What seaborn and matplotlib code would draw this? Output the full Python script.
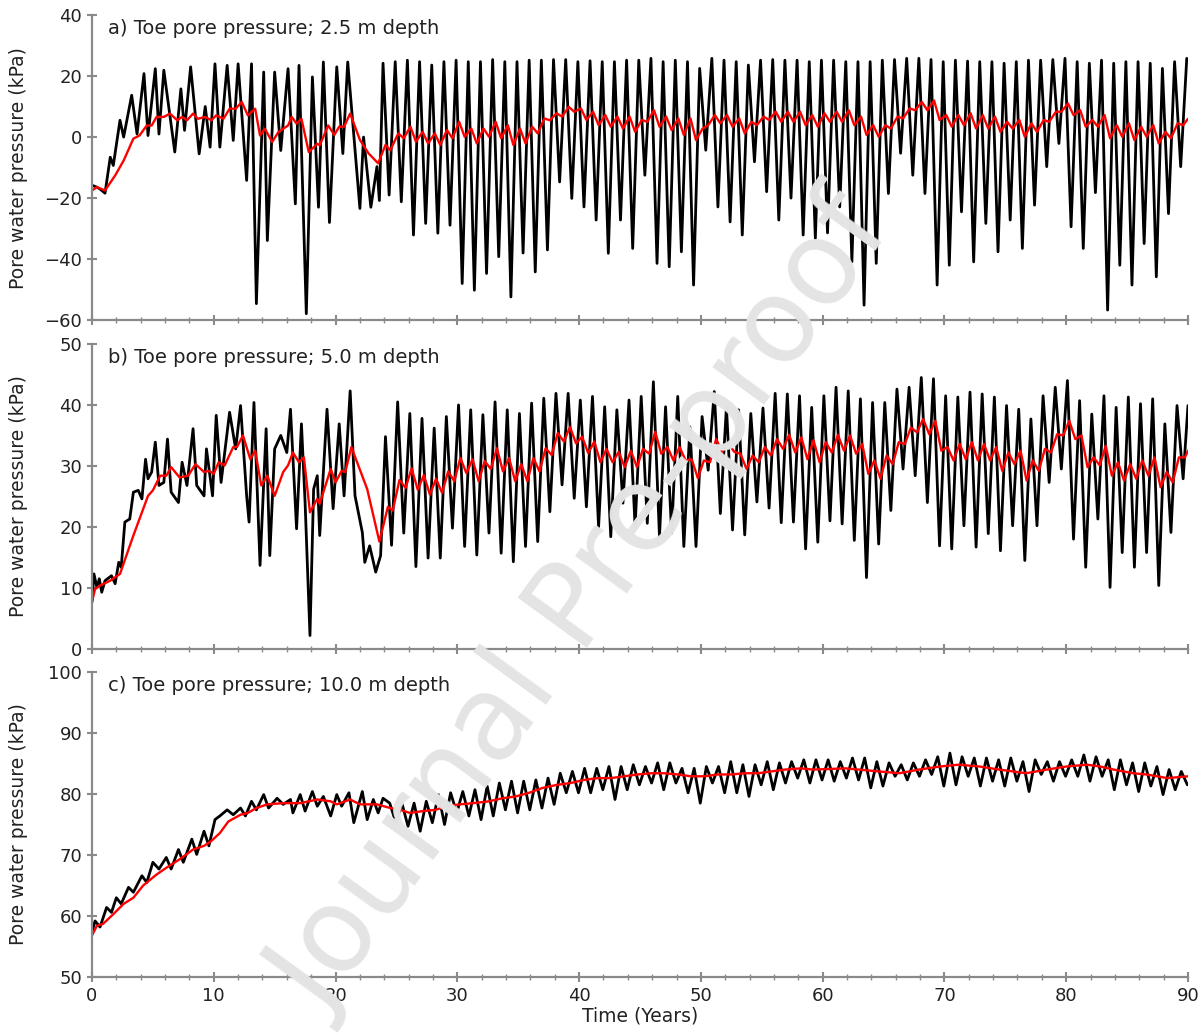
import numpy as np
import pandas as pd
import seaborn as sns
import matplotlib.pyplot as plt
from matplotlib.ticker import MultipleLocator

# ---- panel a: 2.5 m depth ----
# irregular first years (time, value)
a_early_t = [0, 0.4, 0.65, 1.07, 1.5, 1.75, 2.3, 2.6, 3.26, 3.7, 4.27, 4.6, 5.2, 5.5, 5.9, 6.8, 7.3, 7.6, 8.1, 8.8,
             9.3, 9.7, 10.1, 10.5, 11.1, 11.6, 12.0, 12.7, 13.1, 13.5, 14.1, 14.4, 15.0, 15.5, 16.1, 16.7, 17.0, 17.6, 18.1, 18.6,
             19.0, 19.5, 20.1, 20.6, 21.0, 22.0, 22.3, 22.9, 23.4, 23.6]
a_early_v = [-15.8, -16.4, -17, -18.4, -6.6, -9.3, 5.5, 0, 13.7, 1, 20.8, 0.5, 22.4, 1, 21.9, -4.9, 15.8, 2.2, 23, -5.5,
             10, -3.3, 24, -3.3, 23.5, -1.1, 24, -14.2, 24, -54.6, 21.3, -33.9, 21.3, -4.4, 22.4, -21.9, 23.5, -57.9, 19.7, -23,
             24.6, -28, 23, -5.4, 24.6, -23.4, 0, -23, -9.7, -20.8]
# yearly peaks (years 23..89) and troughs (years 24..89)
a_peaks = [24.2, 24.7, 25.2, 24.7, 23.6, 24.7, 25.2, 24.7, 24.7, 25.4, 24.7, 24.7, 25.2, 25.2, 25.4, 25.4, 24.7,
           25.0, 24.7, 24.7, 25.2, 25.2, 25.8, 24.7, 25.2, 24.7, 22.5, 25.8, 25.2, 24.7, 23.6, 25.2, 25.4,
           25.2, 25.2, 24.7, 25.2, 25.2, 24.7, 24.7, 24.7, 25.2, 25.4, 25.8, 25.8, 25.4, 24.7, 25.2, 24.9, 24.7,
           24.7, 24.2, 24.7, 25.2, 25.2, 25.4, 25.8, 24.7, 24.2, 25.2, 24.2, 24.7, 24.7, 24.2, 22.5, 24.7, 25.8]
a_troughs = [-19, -21.2, -32.1, -28.3, -31.5, -28.9, -48, -50.2, -44.7, -39.2, -52.4, -38, -44.2, -37, -14.7, -20.1,
             -22.9, -27.2, -38.1, -27.2, -36.5, -12.5, -41.4, -42.5, -37.6, -48.5, -4.3, -22.9, -27.8, -32.1, -8.1,
             -17.9, -27.2,
             -20, -32.1, -33.2, -31.4, -22.9, -40.9, -55.1, -41.4, -18.5, -5.3, -12.5, -18.5, -48.5, -42, -24.5,
             -40.9, -28.3, -37.6, -27.2, -36.5, -22.3, -9.7, -2.1, -29.4, -36.5, -18.2, -56.7, -42, -48.5, -34.9,
             -45.8, -25.1, -9.7]
a_red_early_t = [0, 0.4, 1.07, 1.9, 2.6, 3.4, 3.9, 4.5, 4.9, 5.3, 5.9, 6.4, 7.0, 7.4, 7.8, 8.3, 8.7, 9.3, 9.8, 10.2,
                 10.8, 11.3, 11.8, 12.3, 12.8, 13.4, 13.8, 14.2, 14.8, 15.3, 16.1, 16.4, 16.8, 17.2, 17.8, 18.5, 18.7,
                 19.4, 19.9, 20.3, 20.7, 21.2, 22.0, 22.7, 23.5, 24.1, 24.5]
a_red_early_v = [-17.5, -16.4, -17.5, -12.6, -7.7, -0.5, 0.5, 3.8, 3.8, 6.6, 6.6, 7.7, 5.5, 6.6, 5.5, 7.7, 6, 6.6, 5.5,
                 7.1, 6, 9.3, 9.3, 11.5, 7.1, 9.3, 0.5, 2.7, -1.6, 1.6, 3.8, 6.6, 4.4, 6, -4.9, -2.2, -2.7, 3.8, 0.7,
                 3.4, 3.4, 7.7, -0.9, -5.3, -8.6, -2.6, -4.3]
# running mean wiggle, years 25..89
a_red_hi = [1.2, 3.4, 1.7, 1.2, 2.3, 5, 2.8, 2.8, 5, 3.9, 2.8, 3.4, 6.1, 7.8, 9.9, 9.4, 8.3, 7.2, 6.7, 6.7,
            5.6, 8.8, 6.7, 6.1, 6.1, 2.8, 7.2, 7.2, 6.1, 5, 6.7, 8.3, 8.3, 8.3, 7.2, 7.8, 8.3, 8.8, 6.7, 3.9,
            3.9, 6.7, 9.4, 11.5, 12, 7.2, 7.2, 7.8, 7.2, 6.7, 5, 5.6, 4.5, 5.6, 8.3, 11, 8.8, 5.6, 7.2, 3.9,
            4.5, 3.4, 3.9, 1.7, 4.5]
a_red_lo = [-0.4, -1.5, -2.1, -2.6, -0.4, 0.1, -2.1, 0.1, -0.4, -2.6, -2.1, 1.2, 5.5, 6.7, 8.3, 5.6, 3.9, 3.4, 2.8, 1.7,
            5, 3.4, 2.3, 0.7, -1, 3.9, 4.5, 3.4, 1.2, 3.9, 5.6, 5, 5, 3.9, 3.4, 5, 5, 3.9, 0.7, 0.1,
            2.8, 6.1, 8.8, 8.8, 5.6, 3.4, 3.9, 2.8, 2.8, 1.7, 2.8, 0.1, 1.7, 5, 8.3, 7.2, 3.4, 3.4, -0.4, 0.1,
            -1, 0.1, -2.1, -0.4, 3.9]

# ---- panel b: 5.0 m depth ----
b_early_t = [0, 0.16, 0.4, 0.6, 0.8, 1.07, 1.6, 1.9, 2.2, 2.4, 2.7, 3.1, 3.4, 3.8, 4.1, 4.4, 4.6, 4.9, 5.2, 5.5,
             5.9, 6.2, 6.5, 7.1, 7.4, 7.8, 8.3, 8.6, 9.2, 9.4, 9.9, 10.2, 10.6, 11.3, 11.8, 12.2, 12.7, 12.9, 13.3, 13.8,
             14.3, 14.6, 15.0, 15.5, 16.0, 16.3, 16.8, 17.2, 17.5, 17.9, 18.2, 18.5, 18.7, 19.3, 19.8, 20.3, 20.7, 21.2,
             21.6, 22.2, 22.4, 22.8, 23.3, 23.7, 24.1]
b_early_v = [7.7, 12.3, 10.1, 11.5, 9.3, 11.2, 12, 10.7, 14.2, 13.4, 20.8, 21.3, 25.7, 26, 24.6, 31.1, 27.9, 29, 33.9, 26.8,
             27.3, 34.4, 25.7, 24, 30.6, 26.8, 36.1, 26.8, 25.1, 32.8, 25.1, 38.3, 27.3, 38.8, 32.8, 39.9, 25.1, 20.8, 40.4, 13.7,
             36.1, 15.3, 32.8, 35, 32.2, 39.3, 19.7, 36.9, 24, 2.2, 26.2, 28.4, 18.6, 39.3, 23, 36.9, 25.1, 42.3,
             25.1, 19.1, 14.2, 16.9, 12.6, 15.3, 34.8]
# peaks years 25..89, troughs years 24..89
b_peaks = [40.5, 38.6, 37.8, 36.2, 38.1, 40, 39.2, 38.4, 40.5, 39.2, 38.6, 40.3, 41.1, 41.9, 41.9, 40.8,
           41.4, 39.7, 39.2, 40.8, 41.4, 43.8, 39.7, 41.4, 36.4, 38.1, 42.2, 39.7, 39.2, 38.6, 39.5, 41.9,
           41.8, 41.5, 39.6, 41.5, 42.9, 42.3, 41.0, 40.4, 40.4, 42.6, 42.9, 44.5, 44.3, 41.5, 41.3, 42.1, 41.8,
           41.3, 39.9, 39.3, 37.7, 41.5, 42.9, 44.0, 40.7, 38.5, 41.5, 39.6, 41.3, 40.2, 41.0, 36.9, 39.9]
b_troughs = [17.0, 19.0, 13.5, 14.9, 14.9, 19.8, 16.8, 15.4, 19.0, 15.7, 14.3, 16.8, 17.6, 22.5, 26.9, 24.7, 23.3,
             20.0, 18.4, 23.9, 20.0, 20.6, 18.4, 19.0, 16.8, 16.8, 29.3, 22.2, 19.5, 18.7, 24.1, 23.1, 20.7,
             20.8, 16.4, 17.5, 21.0, 20.5, 17.8, 11.7, 17.2, 22.7, 29.5, 28.4, 24.0, 16.9, 16.4, 20.2, 16.7, 18.9,
             16.1, 20.2, 14.5, 20.2, 27.3, 29.5, 18.0, 13.4, 21.3, 10.1, 15.8, 13.4, 15.8, 10.4, 19.1, 27.9]
b_red_early_t = [0, 0.25, 0.66, 1.5, 2.3, 3.4, 4.6, 5.0, 5.6, 6.1, 6.5, 7.2, 7.9, 8.5, 9.2, 9.6, 10.0, 10.4, 10.9, 11.6,
                 11.9, 12.4, 13.0, 13.4, 13.9, 14.4, 15.0, 15.7, 16.1, 16.5, 17.0, 17.4, 17.9, 18.5, 18.7, 19.6, 20.0,
                 20.5, 20.8, 21.3, 22.6, 23.6, 24.3, 24.7]
b_red_early_v = [7.7, 9.8, 10.4, 11.2, 12.3, 18.6, 25.1, 26, 28.4, 28.4, 29.8, 28.1, 28.4, 30.3, 29, 29.2, 28.7, 30.6,
                 30.1, 33.1, 33.1, 35, 31.1, 32.5, 26.8, 28.4, 25.1, 29, 30.1, 32.2, 30.6, 31.4, 22.4, 24.6, 23.8, 29.5,
                 27.3, 29.2, 29, 33.1, 26.2, 17.6, 23.3, 22.7]
b_red_hi = [27.7, 29.6, 28.5, 27.9, 29.1, 31.3, 31.1, 30.8, 32.9, 31.3, 30.3, 31.3, 32.9, 35.4, 36.4, 34.8, 34.0, 32.8,
            32.3, 32.5, 32.8, 35.6, 33.1, 33.1, 31.1, 30.9, 34.4, 33.7, 32.0, 31.7, 33.1, 34.4, 35.1, 34.7, 34.2, 33.9,
            35.1, 35.0, 33.6, 30.9, 31.7, 33.9, 36.3, 37.7, 37.4, 33.1, 33.6, 33.9, 33.6, 33.1, 32.2, 32.5, 30.9, 32.8,
            35.2, 37.4, 35.0, 31.4, 33.3, 30.6, 30.3, 30.9, 31.4, 29.0, 31.4]
b_red_lo = [26.4, 26.1, 25.3, 25.6, 27.5, 28.8, 27.5, 29.5, 29.1, 27.5, 27.5, 29.1, 31.8, 34.0, 33.7, 32.1, 30.6, 30.6,
            29.8, 29.8, 32.0, 32.0, 30.9, 30.9, 28.0, 30.6, 32.3, 32.3, 29.5, 30.6, 31.7, 32.8, 32.2, 31.1, 30.6, 32.2,
            32.5, 32.0, 28.7, 27.9, 30.3, 33.6, 35.5, 35.2, 32.5, 30.9, 31.1, 30.9, 30.9, 29.2, 30.3, 27.6, 29.2, 32.2,
            35.0, 34.4, 29.8, 30.1, 28.4, 27.6, 27.9, 28.4, 26.5, 27.3, 31.4]

# ---- panel c: 10.0 m depth ----
c_early_t = [0, 0.25, 0.66, 1.2, 1.6, 2.0, 2.4, 3.0, 3.4, 4.1, 4.5, 5.0, 5.5, 6.1, 6.5, 7.1, 7.5, 8.2, 8.6, 9.2,
             9.6, 10.1, 10.5, 11.1, 11.6, 12.2, 12.6, 13.1, 13.5, 14.1, 14.5, 15.2, 15.7, 16.3, 16.5, 17.1, 17.5, 18.1,
             18.5, 19.0, 19.6, 20.1, 20.5, 21.1, 21.5, 22.2, 22.6, 23.1, 23.5, 23.9]
c_early_v = [57.3, 59.2, 58.2, 61.4, 60.6, 63.0, 62.0, 64.7, 63.9, 66.6, 65.5, 68.8, 67.7, 69.6, 67.7, 70.9, 68.8, 72.6,
             70.1, 73.9, 71.5, 75.8, 76.4, 77.4, 76.6, 77.7, 76.4, 78.8, 77.4, 79.9, 77.7, 79.3, 78.3, 79.1, 76.9, 79.9,
             77.2, 80.4, 78.0, 79.6, 76.4, 79.9, 78.0, 80.2, 75.3, 80.4, 75.8, 79.1, 76.9, 79.3]
# peaks and troughs years 24..89
c_peaks = [78.5, 78.5, 78.5, 78.8, 79.9, 80.2, 80.4, 80.7, 81.3, 81.8, 82.1, 82.1, 82.3, 82.6, 83.4, 83.7, 84.2, 84.2,
           84.5, 84.5, 84.8, 84.5, 85.1, 85.1, 84.2, 84.2, 84.5, 84.5, 85.3, 84.8, 84.8, 85.3, 85.1,
           85.3, 85.6, 85.6, 85.6, 85.3, 85.9, 85.9, 85.3, 85.1, 84.8, 85.1, 85.6, 86.1, 86.7, 86.1, 85.9, 85.9,
           85.6, 85.9, 85.3, 85.6, 85.3, 85.3, 85.6, 86.4, 86.1, 85.6, 85.6, 85.1, 85.1, 84.5, 84.0, 83.7]
c_troughs = [75.3, 74.7, 73.9, 75.3, 75.0, 76.9, 76.4, 75.8, 76.4, 77.4, 76.9, 77.4, 77.7, 78.3, 80.2, 80.2, 80.2,
             80.7, 79.1, 80.7, 81.5, 81.8, 80.7, 81.8, 80.2, 78.5, 81.8, 80.2, 80.2, 79.6, 81.5, 80.7, 81.8,
             82.6, 81.8, 82.3, 82.1, 82.6, 82.3, 81.0, 81.3, 82.9, 82.3, 82.9, 83.2, 81.3, 81.5, 82.9, 81.3, 82.1,
             81.3, 82.1, 80.4, 83.2, 82.1, 82.9, 82.9, 82.1, 82.9, 80.7, 81.5, 80.4, 81.3, 79.9, 80.7, 81.5]
c_red_t = [0, 0.4, 0.9, 1.75, 2.6, 3.4, 4.2, 5.3, 6.1, 7.2, 8.3, 9.2, 9.8, 10.5, 11.2, 12.2, 12.8, 13.5, 14.4, 15.7,
           17.1, 18.5, 19.6, 20.1, 21.2, 22.0, 23.4, 24.5, 25.3, 26.1, 27.2, 28.2, 29.1, 30.2, 31.3, 32.6, 33.7, 34.8,
           35.9, 37.0, 38.2, 39.3, 40.4, 41.5, 42.6, 43.7, 44.8, 45.9, 47.0, 48.1, 49.2, 50.3, 51.4, 52.5, 53.6, 54.7,
           55.8, 56.9, 58.2, 59.2, 61.9, 64.6, 66.3, 67.9, 69.6, 71.2, 72.9, 74.5, 76.7, 78.4, 80.0, 81.7, 82.8, 83.9,
           85.5, 86.6, 88.3, 90]
c_red_v = [56.8, 58.4, 58.7, 60.3, 62.0, 63.0, 65.0, 66.8, 67.9, 69.3, 70.9, 71.5, 72.3, 73.6, 75.5, 76.6, 76.9, 77.7,
           78.3, 78.5, 78.5, 79.1, 78.8, 78.3, 79.1, 78.3, 78.3, 77.7, 77.4, 76.9, 77.2, 77.4, 78.0, 78.3, 78.5, 78.8,
           79.3, 79.6, 80.2, 81.0, 81.5, 81.8, 82.3, 82.6, 82.6, 82.9, 83.2, 83.4, 83.4, 83.2, 82.9, 82.9, 83.2, 83.2,
           83.4, 83.4, 83.7, 84.0, 84.2, 84.0, 84.2, 83.7, 83.4, 84.0, 84.5, 84.8, 84.5, 84.0, 83.4, 84.0, 84.5, 84.8,
           84.5, 84.0, 83.4, 83.2, 82.6, 82.9]

titles = ["a) Toe pore pressure; 2.5 m depth", "b) Toe pore pressure; 5.0 m depth",
          "c) Toe pore pressure; 10.0 m depth"]
ylims = [(-60, 40), (0, 50), (50, 100)]
ysteps = [20, 10, 10]


def series(early_t, early_v, hi, hi_year0, hi_off, lo, lo_year0, lo_off, end=None):
    # early points followed by the yearly highs and lows in time order
    pts = list(zip(early_t, early_v))
    pts += [(hi_year0 + i + hi_off, v) for i, v in enumerate(hi)]
    pts += [(lo_year0 + i + lo_off, v) for i, v in enumerate(lo)]
    if end is not None:
        pts.append(end)
    pts.sort(key=lambda p: p[0])
    return pd.DataFrame(pts, columns=["t", "v"])


black = [series(a_early_t, a_early_v, a_peaks, 23, 0.9, a_troughs, 24, 0.4),
         series(b_early_t, b_early_v, b_peaks, 25, 0.1, b_troughs, 24, 0.6, (90, 39.9)),
         series(c_early_t, c_early_v, c_peaks, 24, 0.45, c_troughs, 24, 0.95)]
red = [series(a_red_early_t, a_red_early_v, a_red_hi, 25, 0.15, a_red_lo, 25, 0.6, (90, 6)),
       series(b_red_early_t, b_red_early_v, b_red_hi, 25, 0.25, b_red_lo, 25, 0.75, (90, 32.5)),
       pd.DataFrame({"t": c_red_t, "v": c_red_v})]

sns.set_style("white")
plt.rcParams["font.family"] = ["DejaVu Sans"]
grey = "#8a8a8a"
txt = "#222222"

fig = plt.figure(figsize=(12.04, 10.36), dpi=100)
boxes = [(0.0764, 0.691, 0.9103, 0.2945), (0.0764, 0.3736, 0.9103, 0.2944), (0.0764, 0.0569, 0.9103, 0.2945)]

for i in range(3):
    ax = fig.add_axes(boxes[i])
    sns.lineplot(data=black[i], x="t", y="v", color="black", lw=2.0, estimator=None, sort=False, ax=ax)
    sns.lineplot(data=red[i], x="t", y="v", color="#ff0000", lw=1.7, estimator=None, sort=False, ax=ax)
    ax.set_xlim(0, 90)
    ax.set_ylim(*ylims[i])
    ax.yaxis.set_major_locator(MultipleLocator(ysteps[i]))
    ax.xaxis.set_major_locator(MultipleLocator(10))
    ax.xaxis.set_minor_locator(MultipleLocator(2))
    for s in ["top", "right"]:
        ax.spines[s].set_visible(False)
    for s in ["left", "bottom"]:
        ax.spines[s].set_color(grey)
        ax.spines[s].set_linewidth(1.6)
    ax.tick_params(which="both", bottom=True, left=True)
    ax.tick_params(which="major", direction="inout", length=7, width=1.5, color=grey,
                   labelsize=13, labelcolor=txt)
    ax.tick_params(which="minor", direction="inout", length=5, width=1.0, color=grey)
    ax.set_ylabel("Pore water pressure (kPa)", fontsize=13.5, color=txt)
    ax.text(0.015, 0.955, titles[i], transform=ax.transAxes, fontsize=14, color=txt, va="center")
    if i < 2:
        ax.set_xlabel("")
        ax.tick_params(axis="x", labelbottom=False)
    else:
        ax.set_xlabel("Time (Years)", fontsize=13.5, color=txt, labelpad=1)
    ax.yaxis.set_label_coords(-0.058, 0.5)

fig.text(0.485, 0.415, "Journal Pre-proof", rotation=54, fontsize=84, color="#e4e4e4",
         ha="center", va="center", zorder=20)

fig.savefig("out.png", dpi=100)
